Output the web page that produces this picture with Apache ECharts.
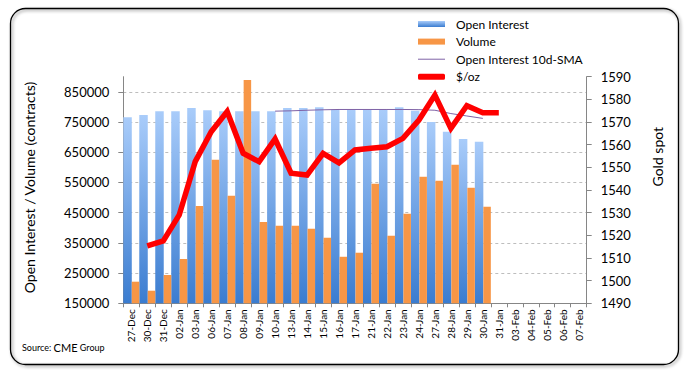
<!DOCTYPE html>
<html>
<head>
<meta charset="utf-8">
<script src="https://cdn.jsdelivr.net/npm/echarts@6/dist/echarts.min.js"></script>
<style>html,body{margin:0;padding:0;background:#fff;}#c{width:687px;height:371px;}</style>
</head>
<body>
<div id="c"></div>
<script>
var categories = ['27-Dec','30-Dec','31-Dec','02-Jan','03-Jan','06-Jan','07-Jan','08-Jan','09-Jan','10-Jan','13-Jan','14-Jan','15-Jan','16-Jan','17-Jan','21-Jan','22-Jan','23-Jan','24-Jan','27-Jan','28-Jan','29-Jan','30-Jan','31-Jan','03-Feb','04-Feb','05-Feb','06-Feb','07-Feb'];
var openInterest = [766000,773000,786000,786000,796000,789000,786000,786000,786000,786000,796000,796000,799000,791000,791000,791000,791000,799000,787000,750000,718000,694000,685000];
var volume = [221500,191700,243700,296700,472000,625100,505900,888700,419000,406700,406700,396800,367000,304000,317400,545700,373600,446400,568800,555600,608500,532400,469600];
var oiSma10 = [null,null,null,null,null,null,null,null,null,786000,787000,789000,790500,791500,791500,791500,791500,791500,791000,789000,778000,770000,762000];
var goldPrice = [null,1515.3,1517.5,1529,1552.5,1565.7,1574.6,1556.2,1552.5,1562.5,1547.4,1546.6,1556.2,1552,1557.7,1558.4,1559.1,1562.8,1570.9,1581.9,1567.2,1577.2,1574.1,1574.1];
var leftTicks = [150000,250000,350000,450000,550000,650000,750000,850000];
var rightTicks = [1490,1500,1510,1520,1530,1540,1550,1560,1570,1580,1590];

var FONT = 'Lato';
var chart = echarts.init(document.getElementById('c'), null, {renderer: 'svg'});
var blueGrad = new echarts.graphic.LinearGradient(0,0,0,1,[{offset:0,color:'#A9CCFA'},{offset:1,color:'#3A7CD0'}]);
var plain = function (v) { return String(v); };
var option = {
  animation: false,
  backgroundColor: '#fff',
  textStyle: {fontFamily: FONT},
  grid: {left: 123.3, right: 100.3, top: 76.7, bottom: 67.7, containLabel: false, outerBoundsMode: 'none'},
  legend: {
    orient: 'vertical', left: 418, top: 16, padding: 0, itemWidth: 27, itemHeight: 6, itemGap: 1.6,
    textStyle: {fontFamily: FONT, fontSize: 12, color: '#000', lineHeight: 16, padding: [0,0,0,6]},
    itemStyle: {borderWidth: 0},
    data: [
      {name: 'Open Interest', icon: 'rect'},
      {name: 'Volume', icon: 'rect'},
      {name: 'Open Interest 10d-SMA', icon: 'path://M0,0L27,0L27,1L0,1Z', itemStyle: {borderWidth: 0}, lineStyle: {width: 0}},
      {name: '$/oz', icon: 'roundRect', itemStyle: {borderWidth: 0}, lineStyle: {width: 0}}
    ]
  },
  xAxis: {
    type: 'category', data: categories, boundaryGap: true,
    axisLine: {show: true, lineStyle: {color: '#868686', width: 1}},
    axisTick: {show: true, alignWithLabel: false, length: 4, lineStyle: {color: '#868686'}},
    axisLabel: {rotate: 90, interval: 0, fontSize: 10, fontFamily: FONT, color: '#000', margin: 6},
    splitLine: {show: false}
  },
  yAxis: [
    {
      type: 'value', min: 150000, max: 900000, position: 'left',
      axisLine: {show: true, lineStyle: {color: '#868686', width: 1}},
      axisTick: {show: true, length: 5, customValues: leftTicks, lineStyle: {color: '#868686'}},
      axisLabel: {customValues: leftTicks, formatter: plain, fontSize: 13, fontFamily: FONT, color: '#000', margin: 14},
      splitLine: {show: true, lineStyle: {color: '#BDBDBD', type: [3,3], width: 1}}
    },
    {
      type: 'value', min: 1490, max: 1590, position: 'right',
      axisLine: {show: true, lineStyle: {color: '#868686', width: 1}},
      axisTick: {show: true, length: 5, customValues: rightTicks, lineStyle: {color: '#868686'}},
      axisLabel: {customValues: rightTicks, formatter: plain, fontSize: 13, fontFamily: FONT, color: '#000', margin: 14},
      splitLine: {show: false}
    }
  ],
  series: [
    {name: 'Open Interest', type: 'bar', data: openInterest, barWidth: 8.5, barGap: '0%', itemStyle: {color: blueGrad}},
    {name: 'Volume', type: 'bar', data: volume, barWidth: 7.5, barGap: '0%', itemStyle: {color: '#F79646'}},
    {name: 'Open Interest 10d-SMA', type: 'line', data: oiSma10, yAxisIndex: 0, showSymbol: false, symbol: 'none',
      lineStyle: {color: '#7F62A6', width: 1}, itemStyle: {color: '#7F62A6', borderWidth: 0}, z: 3},
    {name: '$/oz', type: 'line', data: goldPrice, yAxisIndex: 1, showSymbol: false, symbol: 'none',
      lineStyle: {color: '#FF0000', width: 5.5, join: 'miter'}, itemStyle: {color: '#FF0000', borderWidth: 0}, z: 4}
  ],
  graphic: [
    {type: 'rect', left: 8, top: 6, shape: {width: 668, height: 356, r: 15}, z: 100,
      style: {fill: 'none', stroke: '#000', lineWidth: 1.3, shadowBlur: 3, shadowOffsetX: 1.5, shadowOffsetY: 1.5, shadowColor: 'rgba(0,0,0,0.45)'}},
    {type: 'text', x: 29.5, y: 187.5, rotation: Math.PI/2, z: 100,
      style: {text: 'Open Interest / Volume (contracts)', fontFamily: FONT, fontSize: 14, fill: '#000', align: 'center', verticalAlign: 'middle'}},
    {type: 'text', x: 657, y: 156.7, rotation: Math.PI/2, z: 100,
      style: {text: 'Gold spot', fontFamily: FONT, fontSize: 14, fill: '#000', align: 'center', verticalAlign: 'middle'}},
    {type: 'text', x: 22, y: 347, z: 100,
      style: {text: '{s|Source: }{b|CME}{s| Group}', fontFamily: FONT, fill: '#000', verticalAlign: 'middle',
        rich: {s: {fontSize: 9, fontFamily: FONT}, b: {fontSize: 11, fontFamily: FONT}}}}
  ]
};
chart.setOption(option);
</script>
</body>
</html>
